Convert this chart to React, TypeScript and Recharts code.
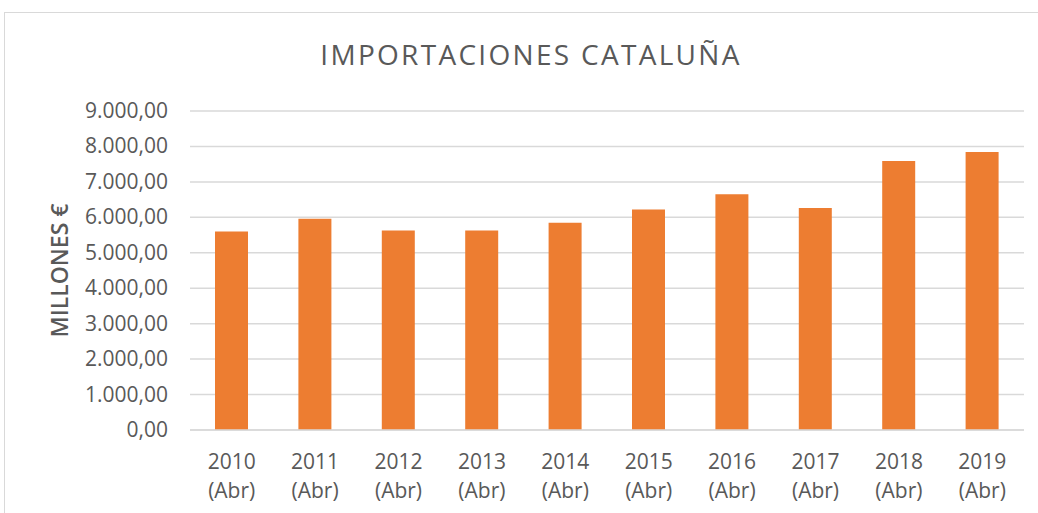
import { BarChart, Bar, XAxis, YAxis, CartesianGrid, Label } from "recharts";

const years = ["2010", "2011", "2012", "2013", "2014", "2015", "2016", "2017", "2018", "2019"];
const imports = [5600, 5960, 5630, 5630, 5850, 6220, 6650, 6260, 7590, 7840];
const yTicks = [0, 1000, 2000, 3000, 4000, 5000, 6000, 7000, 8000, 9000];

const FONT = "'Open Sans', sans-serif";
const GREY = "#595959";

const data = years.map((y, i) => ({ year: y, value: imports[i] }));

// 9000 -> "9.000,00"
function formatEs(v: number): string {
  const [int, dec] = v.toFixed(2).split(".");
  return int.replace(/\B(?=(\d{3})+(?!\d))/g, ".") + "," + dec;
}

function YTick({ x, y, payload }: any) {
  return (
    <text x={x - 14} y={y} dy={7} textAnchor="end" fontFamily={FONT} fontSize={21} fill={GREY}>
      {formatEs(payload.value)}
    </text>
  );
}

function XTick({ x, y, payload }: any) {
  return (
    <text x={x} y={y} textAnchor="middle" fontFamily={FONT} fontSize={21} fill={GREY}>
      <tspan x={x} dy={31}>{payload.value}</tspan>
      <tspan x={x} dy={29}>(Abr)</tspan>
    </text>
  );
}

export default function App() {
  return (
    <div style={{ position: "fixed", top: 0, left: 0, width: 1038, height: 513, background: "#fff", overflow: "hidden" }}>
      <div style={{ position: "absolute", left: 4, top: 12, width: 1100, height: 600, border: "1px solid #d9d9d9" }} />
      <div
        style={{
          position: "absolute",
          top: 35,
          left: 0,
          width: 1062,
          textAlign: "center",
          fontFamily: FONT,
          fontWeight: 400,
          fontSize: 28,
          letterSpacing: 2.3,
          color: GREY,
        }}
      >
        IMPORTACIONES CATALUÑA
      </div>
      <div style={{ position: "absolute", top: 0, left: 0 }}>
        <BarChart width={1038} height={513} data={data} margin={{ top: 111, right: 14, bottom: 0, left: 0 }}>
          <CartesianGrid vertical={false} stroke="#d9d9d9" strokeWidth={1.5} />
          <XAxis
            dataKey="year"
            height={83}
            axisLine={{ stroke: "#d9d9d9", strokeWidth: 1.5 }}
            tickLine={false}
            tick={<XTick />}
            interval={0}
          />
          <YAxis
            width={190}
            domain={[0, 9000]}
            ticks={yTicks}
            axisLine={false}
            tickLine={false}
            tick={<YTick />}
            interval={0}
          >
            <Label
              value="MILLONES €"
              angle={-90}
              position="insideLeft"
              offset={60}
              style={{ fontFamily: FONT, fontSize: 23, fontWeight: 600, fill: GREY, textAnchor: "middle" }}
            />
          </YAxis>
          <Bar dataKey="value" fill="#ED7D31" barSize={33} isAnimationActive={false} />
        </BarChart>
      </div>
    </div>
  );
}
